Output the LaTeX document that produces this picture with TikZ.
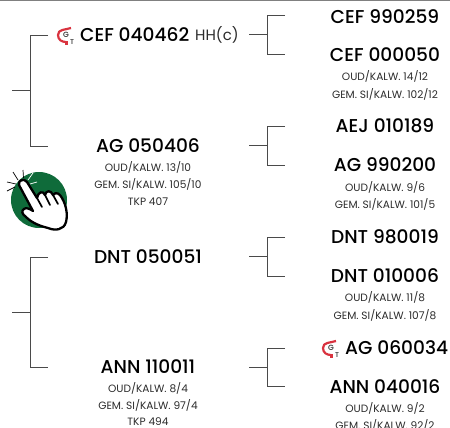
\documentclass[tikz,border=0pt]{standalone}
\usepackage{fontspec}
\setmainfont{Poppins}[BoldFont={Poppins Medium}]
\definecolor{logored}{HTML}{D9333F}
\definecolor{circlegreen}{HTML}{0F6B3A}
\definecolor{linegray}{HTML}{4A4A4A}
\definecolor{textgray}{HTML}{2B2B2B}
\tikzset{
    bullname/.style={inner sep=0pt, text=black, font=\fontsize{18.6}{20}\selectfont\bfseries},
    bullinfo/.style={inner sep=0pt, text=textgray, font=\fontsize{10.6}{12}\selectfont},
    bracket/.style={draw=linegray, line width=0.9pt},
    gtmark/.pic={
        \draw[logored, line width=2.2pt] (5,-8) .. controls (-1,-6) and (-8,-7) .. (-8,-1) .. controls (-8,4) and (-4,6) .. (0,6);
        \fill[logored] (-1,5) rectangle (2,9);
        \node[inner sep=0pt, text=textgray, font=\fontsize{7.5}{7}\selectfont\bfseries] (\pgfkeysvalueof{/tikz/gtname}-g) at (0,-1) {G};
        \node[inner sep=0pt, text=textgray, font=\fontsize{7}{7}\selectfont\bfseries] (\pgfkeysvalueof{/tikz/gtname}-t) at (6,6) {T};
    },
    gtname/.initial=gt,
}
\begin{document}
\begin{tikzpicture}[x=1pt, y=-1pt]
    \useasboundingbox (0,0) rectangle (450,428);
    \fill[gray] (0,0) rectangle (450,1);

    % Brackets
    \foreach \name/\xpos/\ytop/\ybot in {lefta/30/35/146, leftb/30/257/367, righta/267/15/54, rightb/267/126/165, rightc/267/237/276, rightd/267/348/386} {
            \coordinate (\name-stem) at (\xpos-18, {(\ytop+\ybot)/2});
            \coordinate (\name-up) at (\xpos+18, \ytop);
            \coordinate (\name-down) at (\xpos+18, \ybot);
            \draw[bracket] (\name-up) -| (\xpos, \ybot) -- (\name-down);
            \draw[bracket] (\name-stem) -- +(18, 0);
        }

    % Left column
    \node[bullname, anchor=west] (cef-a) at (80, 35) {CEF 040462};
    \node[anchor=west, inner sep=0pt, text=textgray, font=\fontsize{15}{18}\selectfont] (cef-hh) at (195, 35) {HH(c)};
    \node[bullname] (ag-a) at (148, 146) {AG 050406};
    \node[bullinfo] (ag-a-1) at (148, 167) {OUD/KALW. 13/10};
    \node[bullinfo] (ag-a-2) at (148, 184) {GEM. SI/KALW. 105/10};
    \node[bullinfo] (ag-a-3) at (148, 202) {TKP 407};
    \node[bullname] (dnt-a) at (148, 257) {DNT 050051};
    \node[bullname] (ann-a) at (148, 367) {ANN 110011};
    \node[bullinfo] (ann-a-1) at (148, 388) {OUD/KALW. 8/4};
    \node[bullinfo] (ann-a-2) at (148, 405) {GEM. SI/KALW. 97/4};
    \node[bullinfo] (ann-a-3) at (148, 421.5) {TKP 494};

    % Right column
    \node[bullname] (cef-b) at (385, 17) {CEF 990259};
    \node[bullname] (cef-c) at (385, 55) {CEF 000050};
    \node[bullinfo] (cef-c-1) at (385, 76) {OUD/KALW. 14/12};
    \node[bullinfo] (cef-c-2) at (385, 94) {GEM. SI/KALW. 102/12};
    \node[bullname] (aej-a) at (385, 126) {AEJ 010189};
    \node[bullname] (ag-b) at (385, 165) {AG 990200};
    \node[bullinfo] (ag-b-1) at (385, 187) {OUD/KALW. 9/6};
    \node[bullinfo] (ag-b-2) at (385, 204) {GEM. SI/KALW. 101/5};
    \node[bullname] (dnt-b) at (385, 237) {DNT 980019};
    \node[bullname] (dnt-c) at (385, 276) {DNT 010006};
    \node[bullinfo] (dnt-c-1) at (385, 297) {OUD/KALW. 11/8};
    \node[bullinfo] (dnt-c-2) at (385, 315) {GEM. SI/KALW. 107/8};
    \node[bullname, anchor=west] (ag-c) at (345, 348) {AG 060034};
    \node[bullname] (ann-b) at (385, 387) {ANN 040016};
    \node[bullinfo] (ann-b-1) at (385, 408) {OUD/KALW. 9/2};
    \node[bullinfo] (ann-b-2) at (385, 425) {GEM. SI/KALW. 92/2};

    % Logos
    \pic[gtname=gta] at (66, 36) {gtmark};
    \pic[gtname=gtb] at (331, 349) {gtmark};

    % Hand
    \fill[circlegreen] (39, 200) circle (28);
    \foreach \xa/\ya/\xb/\yb in {13/172/18/180, 23/170/23.5/178, 7/182/16/184, 7/191/15/187} {
            \draw[black, line width=0.7pt] (\xa, \ya) -- (\xb, \yb);
        }
    \foreach \xa/\ya/\xb/\yb in {33/173/28/180, 37/182/30/184} {
            \draw[white, line width=0.7pt] (\xa, \ya) -- (\xb, \yb);
        }
    \draw[black, fill=white, line width=2.3pt, line join=round] (19, 185)
        .. controls (18, 180) and (24, 178) .. (27, 182)
        -- (37, 198)
        .. controls (38, 192) and (43, 190) .. (45, 195)
        .. controls (46, 190) and (51, 190) .. (53, 195)
        .. controls (56, 191) and (60, 194) .. (62, 198)
        .. controls (66, 205) and (68, 214) .. (66, 222)
        .. controls (64, 230) and (55, 231) .. (48, 228)
        .. controls (40, 226) and (32, 223) .. (26, 217)
        .. controls (22, 214) and (21, 211) .. (24, 209)
        .. controls (26, 207) and (30, 209) .. (33, 211)
        -- cycle;
    \draw[black, line width=1.7pt, line cap=round] (37, 198) -- (42, 207);
    \draw[black, line width=1.7pt, line cap=round] (45, 195) -- (50, 205);
    \draw[black, line width=1.7pt, line cap=round] (53, 195) -- (58, 204);
\end{tikzpicture}
\end{document}
